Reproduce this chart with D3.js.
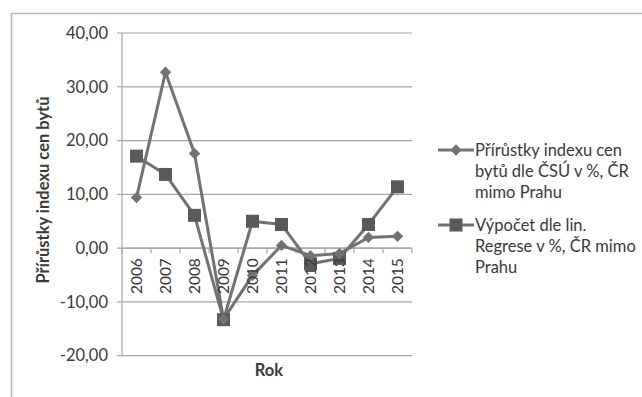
<!DOCTYPE html>
<html><head><meta charset="utf-8">
<script src="https://cdn.jsdelivr.net/npm/d3@7/dist/d3.min.js"></script>
<style>body{margin:0;background:#fff}svg{display:block}</style>
</head><body><svg id="c" width="642" height="397"></svg>
<script>
const years = ["2006","2007","2008","2009","2010","2011","2012","2013","2014","2015"];
const csuValues = [9.4, 32.7, 17.6, -13.2, -5.1, 0.5, -1.4, -1.0, 2.0, 2.2];
const regValues = [17.1, 13.7, 6.1, -13.3, 5.0, 4.4, -2.9, -1.9, 4.4, 11.4];
const yTicks = [-20, -10, 0, 10, 20, 30, 40];
const legendCsu = ["Přírůstky indexu cen", "bytů dle ČSÚ v %, ČR", "mimo Prahu"];
const legendReg = ["Výpočet dle lin.", "Regrese v %, ČR mimo", "Prahu"];

const svg = d3.select("#c");
const font = "Lato, 'Open Sans', sans-serif";
const txt = "#3a3a3a", grid = "#a6a6a6", lineC = "#727272", markC = "#5a5a5a";

// outer border
svg.append("line").attr("x1",11).attr("x2",642).attr("y1",13.5).attr("y2",13.5).attr("stroke","#b8b8b8").attr("stroke-width",1.5);
svg.append("line").attr("x1",11.5).attr("x2",11.5).attr("y1",13).attr("y2",397).attr("stroke","#b8b8b8").attr("stroke-width",1.5);

const L = 122, R = 412;
const x = d3.scaleBand().domain(years).range([L, R]);
const y = d3.scaleLinear().domain([-20, 40]).range([355.7, 33]);

// gridlines
svg.append("g").selectAll("line").data(yTicks).join("line")
  .attr("x1", L).attr("x2", R).attr("y1", d=>y(d)).attr("y2", d=>y(d))
  .attr("stroke", grid).attr("stroke-width", 1.2);

// y axis
const fmt = d => d3.format(".2f")(d).replace(".", ",").replace("−","-");
svg.append("line").attr("x1",L).attr("x2",L).attr("y1",y(40)).attr("y2",y(-20)).attr("stroke",grid).attr("stroke-width",1.2);
svg.append("g").selectAll("line").data(yTicks).join("line")
  .attr("x1", L-5).attr("x2", L).attr("y1", d=>y(d)).attr("y2", d=>y(d)).attr("stroke", grid).attr("stroke-width",1.2);
svg.append("g").selectAll("text").data(yTicks).join("text")
  .attr("x", 108).attr("y", d=>y(d)).attr("dy","0.35em").attr("text-anchor","end")
  .attr("font-family", font).attr("font-size", 16.5).attr("fill", txt).text(fmt);

// x axis along zero
svg.append("line").attr("x1",L).attr("x2",R).attr("y1",y(0)).attr("y2",y(0)).attr("stroke",grid).attr("stroke-width",1.2);
const bounds = years.map(d => x(d)).concat([R]);
svg.append("g").selectAll("line").data(bounds).join("line")
  .attr("x1", d=>d).attr("x2", d=>d).attr("y1", y(0)).attr("y2", y(0)+5).attr("stroke", grid).attr("stroke-width",1.2);

// series
const cx = d => x(d) + x.bandwidth()/2;
const line = d3.line().x((d,i)=>cx(years[i])).y(d=>y(d));
svg.append("path").datum(regValues).attr("d", line).attr("fill","none").attr("stroke",lineC).attr("stroke-width",3);
svg.append("path").datum(csuValues).attr("d", line).attr("fill","none").attr("stroke",lineC).attr("stroke-width",3);
svg.append("g").selectAll("rect").data(regValues).join("rect")
  .attr("x",(d,i)=>cx(years[i])-6.5).attr("y",d=>y(d)-6.5).attr("width",13).attr("height",13).attr("fill",markC);
svg.append("g").selectAll("path").data(csuValues).join("path")
  .attr("transform",(d,i)=>`translate(${cx(years[i])},${y(d)}) rotate(45)`)
  .attr("d", d3.symbol().type(d3.symbolSquare).size(64)).attr("fill",lineC);

// x tick labels (rotated)
svg.append("g").selectAll("text").data(years).join("text")
  .attr("transform", d=>`translate(${cx(d)},${y(0)+10}) rotate(-90)`)
  .attr("dy","0.35em").attr("text-anchor","end")
  .attr("font-family", font).attr("font-size", 15.5).attr("fill", txt).text(d=>d);

// axis titles
svg.append("text").attr("x", 269).attr("y", 376).attr("text-anchor","middle")
  .attr("font-family", font).attr("font-weight","bold").attr("font-size",16.5).attr("fill", txt).text("Rok");
svg.append("text").attr("transform","translate(49,190) rotate(-90)").attr("text-anchor","middle")
  .attr("font-family", font).attr("font-weight","bold").attr("font-size",16.5).attr("fill", txt).text("Přírůstky indexu cen bytů");

// legend
function legend(lines, y0, square){
  svg.append("line").attr("x1",438).attr("x2",474).attr("y1",y0).attr("y2",y0).attr("stroke",lineC).attr("stroke-width",3);
  if (square) svg.append("rect").attr("x",449.5).attr("y",y0-6.5).attr("width",13).attr("height",13).attr("fill",markC);
  else svg.append("path").attr("transform",`translate(456,${y0}) rotate(45)`).attr("d", d3.symbol().type(d3.symbolSquare).size(64)).attr("fill",lineC);
  svg.append("g").selectAll("text").data(lines).join("text")
    .attr("x",475).attr("y",(d,i)=>y0+i*21).attr("dy","0.35em")
    .attr("font-family", font).attr("font-size",16.5).attr("fill", txt).text(d=>d);
}
legend(legendCsu, 150, false);
legend(legendReg, 225, true);
</script></body></html>
